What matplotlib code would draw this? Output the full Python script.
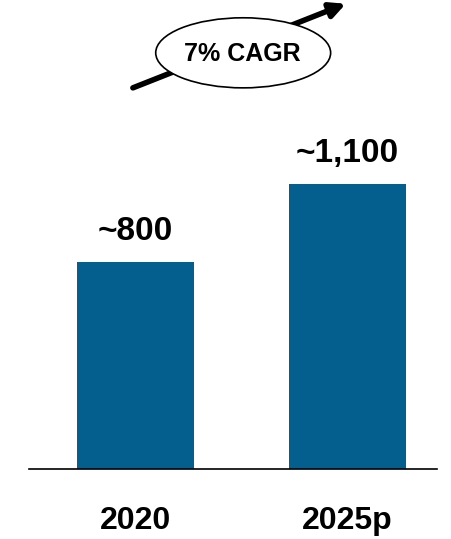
import matplotlib.pyplot as plt
from matplotlib.patches import Ellipse

# Chart data
years = ['2020', '2025p']
values = [800, 1100]
value_labels = ['~800', '~1,100']
cagr_label = '7% CAGR'

bar_color = '#045E8E'

plt.rcParams['font.family'] = ['Liberation Sans', 'DejaVu Sans']

fig = plt.figure(figsize=(4.52, 5.39), dpi=100)
ax = fig.add_axes([0, 0, 1, 1])

x = list(range(len(years)))
ax.bar(x, values, width=0.553, color=bar_color, zorder=2)

# Value labels above bars
for xi, v, lab in zip(x, values, value_labels):
    ax.annotate(lab, (xi, v), xytext=(0, 11), textcoords='offset points',
                ha='center', va='bottom', fontsize=24, fontweight='bold')

# Category labels below the baseline
for xi, yr in zip(x, years):
    ax.text(xi, -200, yr, ha='center', va='center', fontsize=23, fontweight='bold')

ax.set_xlim(-0.641, 1.496)
ax.set_ylim(-270, 1812)

# Baseline
ax.axhline(0, xmin=0.064, xmax=0.967, color='black', linewidth=1.2, zorder=3)

# CAGR arrow with ellipse
ax.annotate('', xy=(0.765, 0.993), xytext=(0.294, 0.837), xycoords='axes fraction',
            arrowprops=dict(arrowstyle='-|>,head_length=0.9,head_width=0.45',
                            color='black', lw=4, shrinkA=0, shrinkB=0))
ell = Ellipse((0.538, 0.902), 0.387, 0.130, transform=ax.transAxes,
              facecolor='white', edgecolor='black', linewidth=1.2, zorder=4)
ax.add_patch(ell)
ax.text(0.535, 0.900, cagr_label, transform=ax.transAxes, ha='center', va='center',
        fontsize=18, fontweight='bold', zorder=5)

ax.axis('off')
fig.savefig('out.png', dpi=100)
